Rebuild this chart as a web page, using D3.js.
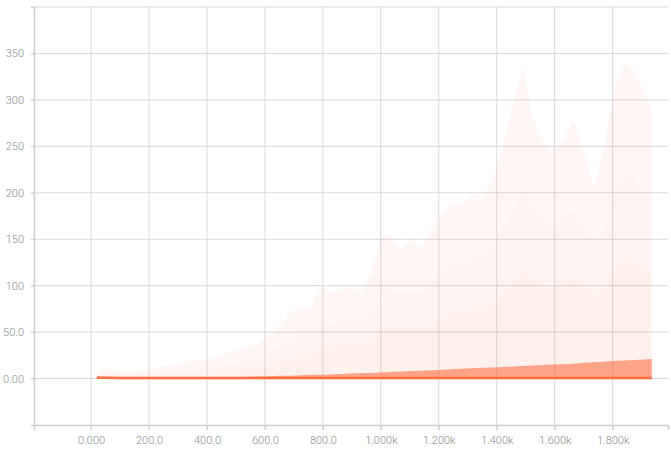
<!DOCTYPE html>
<html><head><meta charset="utf-8">
<script src="https://cdn.jsdelivr.net/npm/d3@7"></script>
<style>body{margin:0;background:#fff}svg{display:block}text{font-family:Roboto,"DejaVu Sans",sans-serif}</style>
</head><body><svg id="c" width="671" height="450"></svg>
<script>
const steps = [20,55,90,125,160,195,230,265,300,335,370,405,440,475,510,545,580,615,650,685,720,755,790,825,860,895,930,965,1000,1035,1070,1105,1140,1175,1210,1245,1280,1315,1350,1385,1420,1455,1490,1525,1560,1595,1630,1665,1700,1735,1770,1805,1840,1875,1910,1935];
const pMax = [8,10,9,7,8,10,12,14,16,18,20,22,25,28,31,34,38,48,56,70,78,74,100,92,96,100,93,112,152,155,140,150,138,162,178,190,186,200,196,212,250,295,335,280,255,245,258,278,245,205,250,310,340,332,305,292];
const p93 = [5,6,6,5,5,6,7,8,9,10,11,12,14,16,18,20,22,28,34,42,48,48,58,60,62,64,62,70,92,98,92,96,92,104,114,122,124,130,130,138,160,185,205,185,170,165,172,182,165,145,165,200,220,218,200,192];
const p84 = [3,3,3,3,3,3,4,4,5,5,6,6,7,8,9,10,11,14,17,22,26,26,32,34,35,36,36,40,52,56,54,56,54,60,66,70,72,76,76,80,92,105,115,108,100,98,102,108,100,90,100,118,130,128,120,115];
const p69 = [2,2,1.5,1,1,1,1,1,1,1,1,1,1.2,1.5,1.8,2,2.2,2.5,3,3,3.5,4,4,4.5,5,5.5,6,6,6.5,7,7.5,8,8.5,9,9.5,10,10.5,11,11.5,12,12.5,13,13.5,14,14.5,15,15.5,16,17,17.5,18,19,19.5,20,20.5,21];
const p50 = [0.8,0.8,0.6,0.5,0.5,0.5,0.5,0.5,0.5,0.5,0.5,0.5,0.5,0.5,0.5,0.5,0.5,0.5,0.5,0.5,0.5,0.5,0.5,0.5,0.5,0.5,0.5,0.5,0.5,0.5,0.5,0.5,0.5,0.5,0.5,0.5,0.5,0.5,0.5,0.5,0.5,0.5,0.5,0.5,0.5,0.5,0.5,0.5,0.5,0.5,0.5,0.5,0.5,0.5,0.5,0.5];
const pMin = [0,0,0,0,0,0,0,0,0,0,0,0,0,0,0,0,0,0,0,0,0,0,0,0,0,0,0,0,0,0,0,0,0,0,0,0,0,0,0,0,0,0,0,0,0,0,0,0,0,0,0,0,0,0,0,0,0];
const xTicks = [0,200,400,600,800,1000,1200,1400,1600,1800];
const yTicks = [0,50,100,150,200,250,300,350];

const svg = d3.select("#c");
const x = d3.scaleLinear().domain([-197, 1991]).range([34, 668]);
const y = d3.scaleLinear().domain([-50, 400]).range([425, 7]);

const grid = svg.append("g");
grid.selectAll("line.v").data(xTicks).join("line")
  .attr("x1", d => x(d)).attr("x2", d => x(d)).attr("y1", 7).attr("y2", 430)
  .attr("stroke", "#d9d9d9").attr("stroke-width", 1);
grid.selectAll("line.h").data(yTicks.concat([400])).join("line")
  .attr("y1", d => y(d)).attr("y2", d => y(d)).attr("x1", 31).attr("x2", 668)
  .attr("stroke", "#d9d9d9").attr("stroke-width", 1);

const bands = [
  {v: pMax, o: 0.055},
  {v: p93, o: 0.025},
  {v: p84, o: 0.025},
  {v: p69, o: 0.6}
];
bands.forEach(b => {
  const area = d3.area().x((d, i) => x(steps[i])).y0((d, i) => y(pMin[i])).y1(d => y(d));
  svg.append("path").datum(b.v).attr("d", area).attr("fill", "#ff7043").attr("fill-opacity", b.o);
});
svg.append("path").datum(p50)
  .attr("d", d3.line().x((d, i) => x(steps[i])).y(d => y(d)))
  .attr("fill", "none").attr("stroke", "#ff6e40").attr("stroke-width", 2.5);

// axes
const xAxis = svg.append("g").attr("transform", "translate(0,425)")
  .call(d3.axisBottom(x).tickValues(xTicks).tickFormat(d3.format(".4s")).tickSize(5).tickPadding(6));
const yAxis = svg.append("g").attr("transform", "translate(34,0)")
  .call(d3.axisLeft(y).tickValues(yTicks).tickFormat(d3.format(".3s")).tickSize(3).tickPadding(7));
[xAxis, yAxis].forEach(a => {
  a.select(".domain").attr("stroke", "#cfcfcf").attr("stroke-width", 1.5);
  a.selectAll(".tick line").attr("stroke", "#cfcfcf");
  a.selectAll("text").attr("fill", "#8a8a8a").attr("font-size", 11).attr("font-weight", 300);
});
</script></body></html>
